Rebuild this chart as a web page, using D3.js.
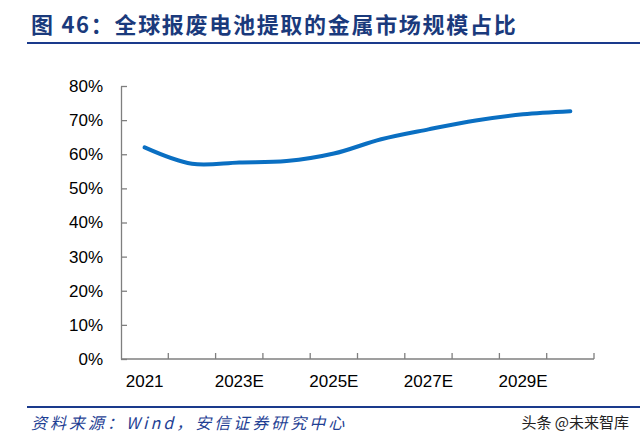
<!DOCTYPE html>
<meta charset="utf-8">
<style>
    body { margin: 0; background: #fff; }
    svg text { font-family: "Liberation Sans", Arial, sans-serif; }
    .axis path, .axis line { stroke: #7f7f7f; stroke-width: 1.3px; }
    .axis text { font-size: 17px; fill: #000; }
</style>
<svg width="640" height="440"></svg>
<script src="https://cdn.jsdelivr.net/npm/d3@7"></script>
<script>

    var years = ["2021", "2022E", "2023E", "2024E", "2025E", "2026E", "2027E", "2028E", "2029E", "2030E"],
        share = [62.0, 57.2, 57.6, 58.0, 60.2, 64.4, 67.3, 69.9, 71.7, 72.6],
        yTicks = [0, 10, 20, 30, 40, 50, 60, 70, 80],
        shownYears = ["2021", "2023E", "2025E", "2027E", "2029E"];

    var svg = d3.select("svg"),
        cjk = "'Noto Sans CJK SC', sans-serif";

    // title + rules
    svg.append("text")
        .attr("x", 31).attr("y", 33)
        .attr("fill", "#1a3a7c")
        .style("font-family", cjk)
        .style("font-weight", "bold")
        .style("font-size", "22px")
        .style("letter-spacing", "1.7px")
        .text("图 46：全球报废电池提取的金属市场规模占比");

    svg.append("line").attr("x1", 27).attr("x2", 640).attr("y1", 43).attr("y2", 43)
        .attr("stroke", "#1a3a8c").attr("stroke-width", 2);
    svg.append("line").attr("x1", 27).attr("x2", 640).attr("y1", 407).attr("y2", 407)
        .attr("stroke", "#1a3a8c").attr("stroke-width", 2);

    svg.append("text")
        .attr("x", 31).attr("y", 429)
        .attr("fill", "#1f3f94")
        .style("font-family", cjk)
        .style("font-style", "italic")
        .style("font-size", "16px")
        .style("letter-spacing", "3px")
        .text("资料来源：Wind，安信证券研究中心");

    svg.append("text")
        .attr("x", 629).attr("y", 428)
        .attr("text-anchor", "end")
        .attr("fill", "#222")
        .style("font-family", cjk)
        .style("font-size", "15px")
        .text("头条 @未来智库");

    // chart
    var x = d3.scaleBand().domain(years).range([121, 594]),
        y = d3.scaleLinear().domain([0, 80]).range([359, 86]);

    svg.append("g").attr("class", "axis")
        .attr("transform", "translate(0,359)")
        .call(d3.axisBottom(x)
            .tickValues(shownYears)
            .tickSize(0)
            .tickPadding(16))
        .call(function (g) { g.select(".domain").remove(); });

    // x ticks sit on band edges, pointing up
    var xg = svg.append("g").attr("class", "axis");
    xg.selectAll("line").data(years).enter().append("line")
        .attr("x1", function (d) { return x(d) + x.bandwidth(); })
        .attr("x2", function (d) { return x(d) + x.bandwidth(); })
        .attr("y1", 359).attr("y2", 353);
    xg.append("line").attr("x1", 121).attr("x2", 594).attr("y1", 359).attr("y2", 359);

    svg.append("g").attr("class", "axis")
        .attr("transform", "translate(121,0)")
        .call(d3.axisLeft(y)
            .tickValues(yTicks)
            .tickSizeInner(-6)
            .tickSizeOuter(0)
            .tickPadding(18)
            .tickFormat(function (d) { return d + "%"; }));

    var line = d3.line()
        .x(function (d, i) { return x(years[i]) + x.bandwidth() / 2; })
        .y(function (d) { return y(d); })
        .curve(d3.curveCatmullRom.alpha(0.5));

    svg.append("path")
        .datum(share)
        .attr("d", line)
        .attr("fill", "none")
        .attr("stroke", "#0a6fc2")
        .attr("stroke-width", 4)
        .attr("stroke-linecap", "round");

</script>
